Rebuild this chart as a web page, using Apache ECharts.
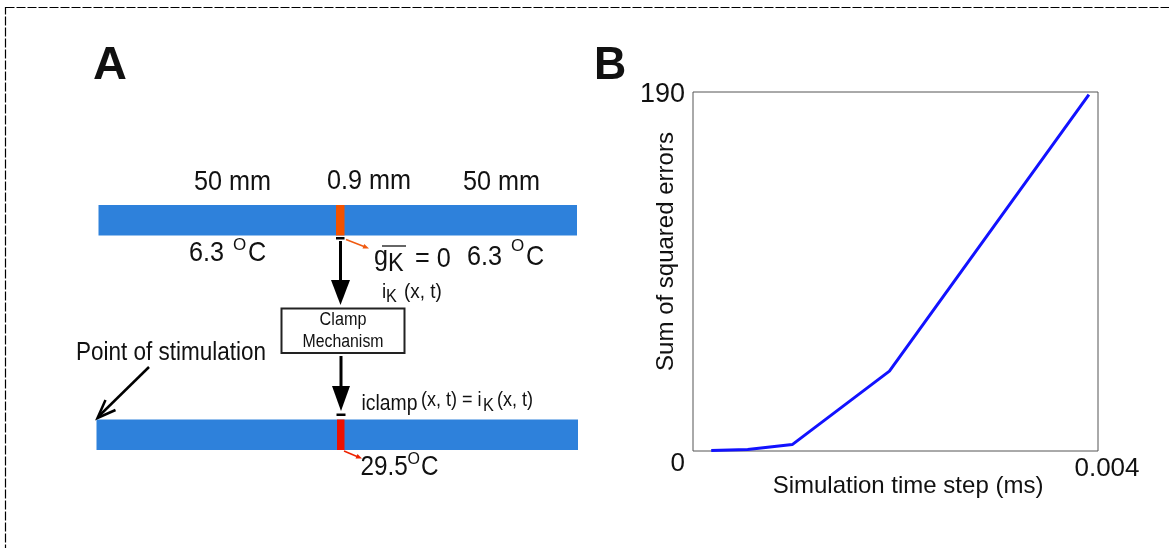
<!DOCTYPE html>
<html>
<head>
<meta charset="utf-8">
<script src="https://cdn.jsdelivr.net/npm/echarts@6/dist/echarts.min.js"></script>
<style>
html,body{margin:0;padding:0;background:#fff;}
#chart{width:1169px;height:548px;}
</style>
</head>
<body>
<div id="chart"></div>
<script>
// Panel B data
const timeSteps = [0.00018, 0.00054, 0.00098, 0.00194, 0.00391];
const sumSquaredErrors = [0.2, 0.8, 3.4, 42.3, 188.6];
const xRange = [0, 0.004];
const yRange = [0, 190];
const xLabel = 'Simulation time step (ms)';
const yLabel = 'Sum of squared errors';

const FONT = '"Liberation Sans", Arial, Helvetica, sans-serif';
function T(text, x, y, size, o) {
  o = o || {};
  const al = o.align || 'left';
  return {
    type: 'text', x: x, y: y, scaleX: (o.sx === undefined ? 0.9 : o.sx), z: 10,
    style: {
      text: text,
      font: (o.bold ? 'bold ' : '') + size + 'px ' + FONT,
      fill: o.color || '#111',
      align: al, verticalAlign: 'middle',
      textAlign: al, textVerticalAlign: 'middle'
    }
  };
}
function L(x1, y1, x2, y2, w, c) {
  return { type: 'line', z: 10, shape: { x1: x1, y1: y1, x2: x2, y2: y2 },
    style: { stroke: c || '#000', lineWidth: w } };
}
function P(points, c) {
  return { type: 'polygon', z: 10, shape: { points: points }, style: { fill: c || '#000' } };
}
function R(x, y, w, h, c) {
  return { type: 'rect', z: 5, shape: { x: x, y: y, width: w, height: h }, style: { fill: c } };
}

const BLUE = '#2e81db', ORANGE = '#f25200', RED = '#ee1100';

const graphics = [
  { type: 'rect', z: 1, shape: { x: 5.5, y: 7.5, width: 1300, height: 700 },
    style: { fill: null, stroke: '#000', lineWidth: 1.2, lineDash: [9, 2] } },
  T('A', 93, 66, 47, { bold: true, sx: 1 }),
  T('B', 594, 66, 47, { bold: true, sx: 0.95 }),
  // top cable
  T('50 mm', 194, 182, 28),
  T('0.9 mm', 327, 181, 28),
  T('50 mm', 463, 182, 28),
  R(98.5, 205, 478.5, 30.5, BLUE),
  R(336, 205, 8.5, 30.5, ORANGE),
  T('6.3', 189, 253, 28), T('O', 233, 245, 17, { sx: 1 }), T('C', 248, 253, 28),
  T('6.3', 467, 257, 28), T('O', 511, 246, 17, { sx: 1 }), T('C', 526, 257, 28),
  T('g', 374, 257, 28), T('K', 388, 264, 26), L(382, 246, 406, 246, 1.5, '#333'),
  T('= 0', 415, 259, 28),
  R(336, 237, 8.5, 2.5, '#000'),
  L(340.5, 241, 340.5, 284, 3),
  P([[331, 280], [350, 280], [340.5, 305]]),
  L(346, 239.5, 364, 246.5, 1.5, '#f05a10'),
  P([[369, 248.5], [362.5, 248.6], [364.3, 244.0]], '#f05a10'),
  T('i', 382, 292, 21), T('K', 386, 297, 18), T('(x, t)', 404, 292, 21),
  // clamp box
  { type: 'rect', z: 10, shape: { x: 281.5, y: 308.5, width: 123, height: 44.5 },
    style: { fill: '#fff', stroke: '#222', lineWidth: 2 } },
  T('Clamp', 343, 320, 18, { align: 'center' }),
  T('Mechanism', 343, 342, 18, { align: 'center', sx: 0.88 }),
  L(341, 356, 341, 390, 3),
  P([[332, 386], [350, 386], [341, 411]]),
  R(336.5, 413.5, 9, 2.5, '#000'),
  // bottom cable
  T('Point of stimulation', 76, 353, 25),
  L(149, 367, 99, 416, 2.5),
  { type: 'polyline', z: 10, shape: { points: [[115.5, 410], [97.5, 418], [105.5, 400]] },
    style: { stroke: '#000', lineWidth: 2.5, fill: null } },
  T('iclamp', 361.5, 404, 22, { sx: 0.88 }),
  T('(x, t) = i', 421, 400, 20), T('K', 483, 406, 18), T('(x, t)', 497, 400, 20),
  R(96.5, 419.5, 481.5, 30.5, BLUE),
  R(337, 419.5, 7.5, 30.5, RED),
  L(344, 451, 357, 456.5, 1.5, '#ee2200'),
  P([[362, 458.5], [355.5, 458.5], [357.5, 453.9]], '#ee2200'),
  T('29.5', 360.5, 468, 27), T('O', 407.5, 460, 16, { sx: 1 }), T('C', 421, 468, 27)
];

const chart = echarts.init(document.getElementById('chart'));
chart.setOption({
  animation: false,
  backgroundColor: '#fff',
  graphic: { elements: graphics },
  grid: { left: 693, top: 92, width: 405, height: 359, show: true, borderColor: '#555', borderWidth: 1 },
  xAxis: {
    type: 'value', min: xRange[0], max: xRange[1], interval: xRange[1] - xRange[0],
    axisLine: { show: false }, axisTick: { show: false }, splitLine: { show: false },
    axisLabel: {
      fontSize: 26, color: '#111', fontFamily: FONT, margin: 5, padding: [0, 0, 0, 18],
      formatter: function (v) { return v === xRange[1] ? String(xRange[1]) : ''; }
    },
    name: xLabel, nameLocation: 'middle', nameGap: 23, nameMoveOverlap: false,
    nameTextStyle: { fontSize: 24, color: '#111', fontFamily: FONT, padding: [0, 0, 0, 25] }
  },
  yAxis: {
    type: 'value', min: yRange[0], max: yRange[1], interval: yRange[1] - yRange[0],
    axisLine: { show: false }, axisTick: { show: false }, splitLine: { show: false },
    axisLabel: {
      color: '#111', fontFamily: FONT, margin: 8,
      formatter: function (v) { return v === 0 ? '{z|0}' : '{t|' + v + '}'; },
      rich: {
        z: { fontSize: 26, fontFamily: FONT, color: '#111', padding: [26, 0, 0, 0] },
        t: { fontSize: 27, fontFamily: FONT, color: '#111', padding: [6, 0, 0, 0] }
      }
    },
    name: yLabel, nameLocation: 'middle', nameGap: 15, nameMoveOverlap: false,
    nameTextStyle: { fontSize: 24, color: '#111', fontFamily: FONT, padding: [0, 0, 0, 40] }
  },
  series: [{
    type: 'line',
    data: timeSteps.map(function (t, i) { return [t, sumSquaredErrors[i]]; }),
    showSymbol: false,
    lineStyle: { color: '#1212ff', width: 3 },
    itemStyle: { color: '#1212ff' }
  }]
});
</script>
</body>
</html>
